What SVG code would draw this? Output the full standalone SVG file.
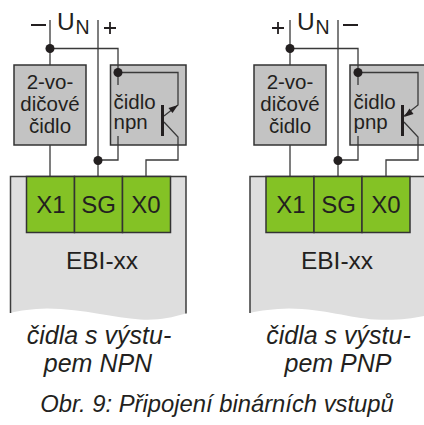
<svg xmlns="http://www.w3.org/2000/svg" width="424" height="425" viewBox="0 0 424 425">
<style>
.base{fill:#dedede;stroke:none}
.edge{fill:none;stroke:#3c3c3c;stroke-width:1.500}
.term rect{fill:#84c225;stroke:#333;stroke-width:1.500}
.box{fill:#c3c3c3;stroke:#333;stroke-width:1.500}
.w{fill:none;stroke:#3a3a3a;stroke-width:1.300}
.bar{fill:none;stroke:#231f20;stroke-width:3}
.sign{fill:none;stroke:#231f20;stroke-width:1.800}
.d{fill:#231f20}
text{font-family:"Liberation Sans",Arial,sans-serif;fill:#231f20}
.m{text-anchor:middle}
.t{font-size:24px;text-anchor:middle}
.s{font-size:20.500px}
.e{font-size:24.500px;text-anchor:middle}
.u{font-size:24.500px}
.n{font-size:19.500px}
.i{font-style:italic;font-size:25px;text-anchor:middle}
.c{font-style:italic;font-size:23.800px;text-anchor:middle}
</style>
<g id="left-module">
<path class="base" d="M10.500 176.500H186V313.500C170 318 158 320.500 140 319.500C115 318 85 309 47 308.500C32 309 20 310.500 10.500 313Z"/>
<path class="edge" d="M10.500 313V176.500H186V313.500"/>
<g class="term"><rect x="26.500" y="176.500" width="48" height="56"/><rect x="74.500" y="176.500" width="48" height="56"/><rect x="122.500" y="176.500" width="48" height="56"/></g>
<text x="51" y="213" class="t">X1</text><text x="98.500" y="213" class="t">SG</text><text x="146" y="213" class="t">X0</text>
<text x="102" y="269" class="e">EBI-xx</text>
</g>
<g id="right-module">
<path class="base" d="M250 176.500H424V316C410 319 395 320.500 375 319.500C350 318 325 309 289 308.500C274 309 260 310.500 250 313Z"/>
<path class="edge" d="M250 313V176.500H424"/>
<g class="term"><rect x="266" y="176.500" width="48" height="56"/><rect x="314" y="176.500" width="48" height="56"/><rect x="362" y="176.500" width="48" height="56"/></g>
<text x="291" y="213" class="t">X1</text><text x="338.500" y="213" class="t">SG</text><text x="386" y="213" class="t">X0</text>
<text x="337" y="269" class="e">EBI-xx</text>
</g>
<g id="left-sensor-2w"><rect class="box" x="14" y="65" width="72" height="80"/>
<text x="50" y="89" class="m s">2-vo-</text><text x="50" y="111" class="m s">dičové</text><text x="50" y="133" class="m s">čidlo</text></g>
<g id="left-sensor-npn"><rect class="box" x="110.500" y="65" width="75.500" height="80"/>
<text x="113.500" y="109" class="s">čidlo</text><text x="113.500" y="128.500" class="s">npn</text></g>
<g id="right-sensor-2w"><rect class="box" x="254" y="65" width="72" height="80"/>
<text x="290" y="89" class="m s">2-vo-</text><text x="290" y="111" class="m s">dičové</text><text x="290" y="133" class="m s">čidlo</text></g>
<g id="right-sensor-pnp"><rect class="box" x="350" y="65" width="76" height="80"/>
<text x="353.500" y="109" class="s">čidlo</text><text x="353.500" y="128.500" class="s">pnp</text></g>
<g id="connectors">
<path class="w" d="M50 20V65M50 48.500H118V85M118 72.500H178V105L164 116M164 122L178 137V160H146V176M50 145V176"/>
<path class="w" d="M98 20V176M118 136V160H98"/>
<path class="bar" d="M162.500 105V136"/>
<path class="d" d="M178 105L168.500 108L172.500 113Z"/>
<path class="w" d="M290 20V65M290 48.500H358V85M358 72.500H418V105L404 116M404 122L418 137V160H386V176M290 145V176"/>
<path class="w" d="M338 20V176M358 136V160H338"/>
<path class="bar" d="M402.500 105V136"/>
<path class="d" d="M404 117L413.500 114L409.500 108.500Z"/>
<circle class="d" cx="50" cy="48.500" r="4.500"/><circle class="d" cx="118" cy="72.500" r="4.500"/><circle class="d" cx="98" cy="160.500" r="4.500"/>
<circle class="d" cx="290" cy="48.500" r="4.500"/><circle class="d" cx="358" cy="72.500" r="4.500"/><circle class="d" cx="338" cy="160.500" r="4.500"/>
</g>
<g id="labels">
<path class="sign" d="M31 25H46M104 28H116M110 22V34"/>
<path class="sign" d="M272 28H284M278 22V34M343 25H358"/>
<text x="57" y="29.500" class="u">U</text><text x="75.500" y="33.500" class="n">N</text>
<text x="297" y="29.500" class="u">U</text><text x="315.500" y="33.500" class="n">N</text>
<text x="99" y="344" class="i">čidla s výstu-</text><text x="98" y="371.500" class="i">pem NPN</text>
<text x="338.500" y="344" class="i">čidla s výstu-</text><text x="338" y="371.500" class="i">pem PNP</text>
<text x="217" y="411.500" class="c">Obr. 9: Připojení binárních vstupů</text>
</g>
</svg>
